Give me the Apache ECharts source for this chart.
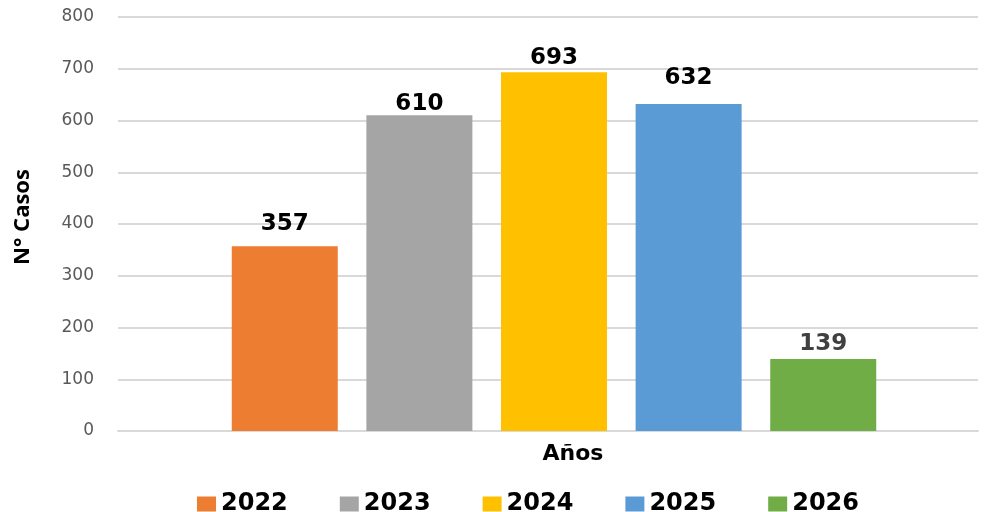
<!DOCTYPE html>
<html>
<head>
<meta charset="utf-8">
<script src="https://cdn.jsdelivr.net/npm/echarts@6/dist/echarts.min.js"></script>
<style>
  html, body { margin: 0; padding: 0; background: #fff; }
  #chart { width: 990px; height: 512px; }
</style>
</head>
<body>
<div id="chart"></div>
<script>
// datos
var categorias = ['Años'];
var anios = ['2022', '2023', '2024', '2025', '2026'];
var casos = [357, 610, 693, 632, 139];
var ticksY = [0, 100, 200, 300, 400, 500, 600, 700, 800];

// estilo
var colores = ['#ED7D31', '#A5A5A5', '#FFC000', '#5B9BD5', '#70AD47'];
var colorEtiqueta = ['#000', '#000', '#000', '#000', '#404040'];
var distEtiqueta = [11, 0, 3, 14, 4];

var myChart = echarts.init(document.getElementById('chart'));

var series = [];
for (var i = 0; i < anios.length; i++) {
    series.push({
        name: anios[i],
        type: 'bar',
        xAxisIndex: 1,
        yAxisIndex: 1,
        barWidth: 106,
        barGap: '27%',
        itemStyle: { color: colores[i] },
        label: {
            show: true,
            position: 'top',
            distance: distEtiqueta[i],
            color: colorEtiqueta[i],
            fontSize: 23,
            fontWeight: 'bold',
            fontFamily: 'DejaVu Sans'
        },
        data: [casos[i]]
    });
}

var option = {
    animation: false,
    // grid 0: ejes y lineas, grid 1: barras (un poco desplazadas a la derecha)
    grid: [
        { left: 118, right: 12, top: 17, bottom: 81 },
        { left: 124, right: 6, top: 17, bottom: 81 }
    ],
    legend: {
        data: anios,
        left: 192,
        top: 487,
        itemWidth: 19,
        itemHeight: 15,
        itemGap: 52,
        icon: 'rect',
        textStyle: { fontSize: 24, fontWeight: 'bold', color: '#000', fontFamily: 'DejaVu Sans' }
    },
    xAxis: [{
        type: 'category',
        gridIndex: 0,
        data: categorias,
        axisTick: { show: false },
        axisLine: { lineStyle: { color: '#d9d9d9', width: 2 } },
        axisLabel: { show: false },
        name: 'Años',
        nameLocation: 'middle',
        nameGap: 12,
        nameTextStyle: { fontSize: 22, fontWeight: 'bold', color: '#000', fontFamily: 'DejaVu Sans', padding: [0, 0, 0, 50] }
    }, {
        type: 'category',
        gridIndex: 1,
        data: categorias,
        show: false
    }],
    yAxis: [{
        type: 'value',
        gridIndex: 0,
        min: ticksY[0],
        max: ticksY[ticksY.length - 1],
        interval: 100,
        name: 'N° Casos',
        nameLocation: 'middle',
        nameGap: 84,
        nameTextStyle: { fontSize: 22, fontWeight: 'bold', color: '#000', fontFamily: 'Open Sans', padding: [0, 0, 0, 14] },
        axisLabel: { fontSize: 17, color: '#595959', margin: 24, fontFamily: 'DejaVu Sans' },
        splitLine: { lineStyle: { color: '#d9d9d9', width: 2 } }
    }, {
        type: 'value',
        gridIndex: 1,
        min: ticksY[0],
        max: ticksY[ticksY.length - 1],
        interval: 100,
        show: false,
        splitLine: { show: false }
    }],
    series: series
};

myChart.setOption(option);
</script>
</body>
</html>
